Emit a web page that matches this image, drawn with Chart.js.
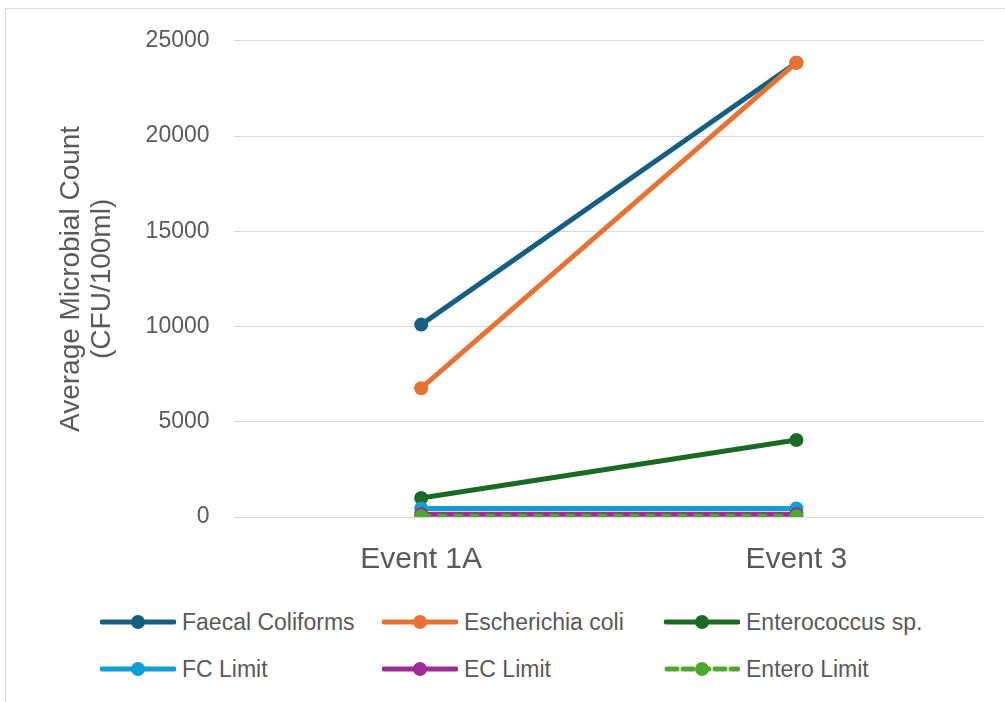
<!DOCTYPE html>
<html><head>
<meta charset="utf-8">
<script src="https://cdn.jsdelivr.net/npm/chart.js"></script>
<style>
  html,body { margin:0; padding:0; background:#fff; width:1005px; height:702px; overflow:hidden; font-family:'Liberation Sans', Arial, sans-serif }
  #frame { position:absolute; left:5px; top:8px; width:1010px; height:710px; border:1px solid #d9d9d9; box-sizing:border-box }
  #wrap { position:absolute; left:0; top:3px; width:1005px; height:593px }
  #legend { position:absolute; left:100px; top:604px; display:grid; grid-template-columns:282px 282px 300px; row-gap:11px }
  .item { display:flex; align-items:center; height:36px; color:#595959; font-size:23px }
  .item svg { margin-right:6px }
</style>
</head><body>
<div id="frame"></div>
<div id="wrap"><canvas id="chart"></canvas></div>
<div id="legend"></div>
<script>
// categories and series
const events = ["Event 1A", "Event 3"];
const faecalColiforms = [10100, 23850];
const eColi = [6760, 23850];
const enterococcus = [1000, 4040];
const fcLimit = [450, 450];
const ecLimit = [150, 150];
const enteroLimit = [35, 35];
const yTicks = [0, 5000, 10000, 15000, 20000, 25000];

const seriesNames = ["Faecal Coliforms", "Escherichia coli", "Enterococcus sp.", "FC Limit", "EC Limit", "Entero Limit"];
const seriesColors = ["#156082", "#E97132", "#196B24", "#0F9ED5", "#A02B93", "#4EA72E"];
const seriesData = [faecalColiforms, eColi, enterococcus, fcLimit, ecLimit, enteroLimit];
const dashed = [false, false, false, false, false, true];

const datasets = seriesData.map((d, i) => ({
  label: seriesNames[i],
  data: d,
  borderColor: seriesColors[i],
  backgroundColor: seriesColors[i],
  borderWidth: 5,
  borderDash: dashed[i] ? [10, 6] : [],
  pointRadius: 7,
  pointHoverRadius: 7,
  pointBorderWidth: 0,
  order: seriesData.length - i   // later series sit on top, like the original
}));

const grey = "#595959";
new Chart(document.getElementById("chart"), {
  type: "line",
  data: { labels: events, datasets },
  options: {
    responsive: true,
    maintainAspectRatio: false,
    animation: false,
    layout: { padding: { top: 34, right: 21, left: 52, bottom: 1 } },
    plugins: { legend: { display: false }, tooltip: { enabled: false } },
    scales: {
      x: {
        offset: true,
        grid: { display: false },
        border: { display: false },
        ticks: { color: grey, font: { size: 30 }, padding: 17 }
      },
      y: {
        min: 0, max: 25000,
        afterBuildTicks: ax => { ax.ticks = yTicks.map(v => ({ value: v })); },
        grid: { color: "#d9d9d9", lineWidth: 1, drawTicks: false },
        border: { display: false },
        ticks: { color: grey, font: { size: 23 }, padding: 24, callback: v => String(v) },
        title: { display: true, text: ["Average Microbial Count", "(CFU/100ml)"], color: grey, font: { size: 28, lineHeight: 1.1 }, padding: 4 }
      }
    }
  }
});

// legend in three columns, like the original
const lg = document.getElementById("legend");
seriesNames.forEach((name, i) => {
  const dash = dashed[i] ? ' stroke-dasharray="10 6" stroke-dashoffset="-1"' : '';
  lg.insertAdjacentHTML("beforeend",
    `<div class="item"><svg width="76" height="16"><line x1="2" y1="8" x2="74" y2="8" stroke="${seriesColors[i]}" stroke-width="5" stroke-linecap="round"${dash}/><circle cx="38" cy="8" r="7" fill="${seriesColors[i]}"/></svg>${name}</div>`);
});
</script>
</body></html>
